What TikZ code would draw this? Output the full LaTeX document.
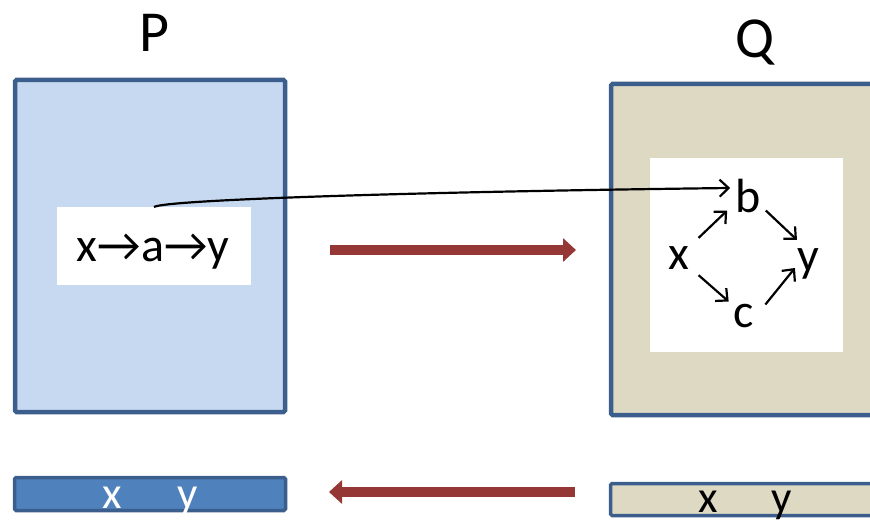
\documentclass[tikz,border=0pt]{standalone}
\usepackage{fontspec}
\setmainfont{Carlito}
\usetikzlibrary{arrows.meta}
\definecolor{pfill}{HTML}{C6D9F1}
\definecolor{qfill}{HTML}{DDD9C3}
\definecolor{bord}{HTML}{3B5E8C}
\definecolor{pdark}{HTML}{4F81BD}
\definecolor{redarr}{HTML}{953735}
\begin{document}
\begin{tikzpicture}[x=1pt,y=-1pt,
  panel/.style={draw=bord, line width=4.5pt, rounded corners=1.5pt, inner sep=0pt, outer sep=0pt},
  strip/.style={draw=bord, line width=3.5pt, rounded corners=1.5pt, inner sep=0pt, outer sep=0pt},
  whitebox/.style={fill=white, inner sep=0pt, outer sep=0pt},
  title/.style={font=\fontsize{58}{60}\selectfont, anchor=base, inner sep=0pt},
  lab/.style={font=\fontsize{48}{50}\selectfont, anchor=base, inner sep=0pt},
  striptext/.style={font=\fontsize{45}{47}\selectfont, anchor=base, inner sep=0pt},
  conn/.style={line width=2.2pt, -{Straight Barb[length=9pt,width=17pt]}},
  bigarr/.style={draw=redarr, line width=10pt, -{Triangle[length=13pt,width=23pt]}}
]
\useasboundingbox (0,0) rectangle (870,521);
% titles
\node[title] (tP) at (154,52) {P};
\node[title] (tQ) at (755,58) {Q};
% panels
\node[panel, fill=pfill, minimum width=270pt, minimum height=332pt] (P) at (150,246) {};
\node[panel, fill=qfill, minimum width=290pt, minimum height=331pt] (Q) at (756,249.5) {};
\node[whitebox, minimum width=194pt, minimum height=78pt] (pin) at (154,246) {};
\node[whitebox, minimum width=193pt, minimum height=194pt] (qin) at (746.5,255) {};
% texts
\node[lab] (pt) at (153,262) {x→a→y};
\node[lab] (qx) at (679,270) {x};
\node[lab] (qb) at (748,213) {b};
\node[lab] (qy) at (808,272) {y};
\node[lab] (qc) at (744,327) {c};
% small arrows
\draw[conn] ([shift={(9,-9)}]qx.north east) -- ([shift={(-8,-3)}]qb.south west);
\draw[conn] ([shift={(5,-3)}]qb.south east) -- ([shift={(0,-9)}]qy.north west);
\draw[conn] ([shift={(9,5)}]qx.south east) -- ([shift={(-5,-2)}]qc.north west);
\draw[conn] ([shift={(11,1)}]qc.north east) -- ([shift={(-2,-4)}]qy.base west);
% long connector
\draw[conn] (pin.north) .. controls (165,200) and (400,192) .. ([shift={(-5,-8.5)}]qb.west);
% red arrows
\coordinate (r1s) at (330,250);
\coordinate (r1e) at (576,250);
\coordinate (r2s) at (575,492);
\coordinate (r2e) at (329,492);
\draw[bigarr] (r1s) -- (r1e);
\draw[bigarr] (r2s) -- (r2e);
% bottom strips
\node[strip, fill=pdark, minimum width=271pt, minimum height=33pt] (sP) at (150,494) {};
\node[strip, fill=qfill, minimum width=290pt, minimum height=32pt] (sQ) at (755.5,499.5) {};
\node[striptext, text=white] (sPt) at (150,508) {x\hspace{55pt}y};
\node[striptext] (sQt) at (745,512) {x\hspace{53pt}y};
\end{tikzpicture}
\end{document}
